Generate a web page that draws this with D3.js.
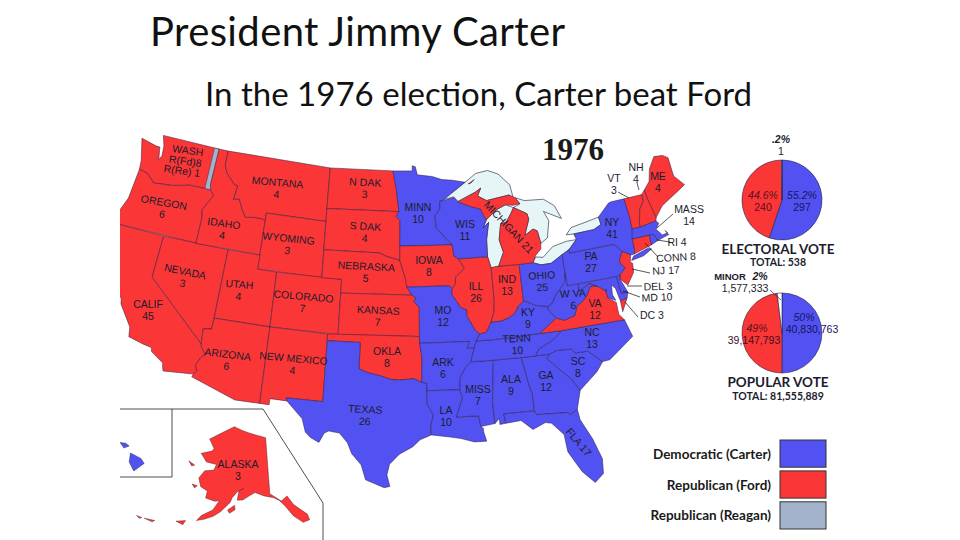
<!DOCTYPE html>
<html>
<head>
<meta charset="utf-8">
<script src="https://cdn.jsdelivr.net/npm/d3@7"></script>
<style>
  body { margin: 0; background: #fff; }
  svg { display: block; }
  text { font-family: "Liberation Sans", sans-serif; }
</style>
</head>
<body>
<svg id="chart" width="960" height="540"></svg>
<script>
// election data
var carterStates = ["AL","AR","DE","DC","FL","GA","HI","KY","LA","MD","MA","MN","MS","MO","NY","NC","OH","PA","RI","SC","TN","TX","WV","WI"];
var fordStates = ["AK","AZ","CA","CO","CT","ID","IL","IN","IA","KS","ME","MI","MT","NE","NV","NH","NJ","NM","ND","OK","OR","SD","UT","VT","VA","WA","WY"];
var labelCodes = ["WA","MT","ND","SD","OR","ID","WY","NE","NV","UT","CO","KS","CA","AZ","NM","OK","TX","AK","MN","WI","IA","IL","IN","OH","MI","MO","KY","WV","VA","PA","NY","NC","TN","AR","MS","AL","GA","SC","LA","FL","ME","VT","NH","MA","RI","CT","NJ","DE","MD","DC"];
var labelNames = ["WASH","MONTANA","N DAK","S DAK","OREGON","IDAHO","WYOMING","NEBRASKA","NEVADA","UTAH","COLORADO","KANSAS","CALIF","ARIZONA","NEW MEXICO","OKLA","TEXAS","ALASKA","MINN","WIS","IOWA","ILL","IND","OHIO","MICHIGAN","MO","KY","W VA","VA","PA","NY","NC","TENN","ARK","MISS","ALA","GA","SC","LA","FLA","ME","VT","NH","MASS","RI","CONN","NJ","DEL","MD","DC"];
var labelVotes = [9,4,3,4,6,4,3,5,3,4,7,7,45,6,4,8,26,3,10,11,8,26,13,25,21,12,9,6,12,27,41,13,10,6,7,9,12,8,10,17,4,3,4,14,4,8,17,3,10,3];

var pieParties = ["Carter","Ford","Minor"];
var electoralVotes = [297,240,1];
var popularVotes = [40830763,39147793,1577333];
var legendNames = ["Democratic (Carter)","Republican (Ford)","Republican (Reagan)"];

// state outlines, lon/lat
var shapes = {
  WA: [[[-124.7,48.4],[-123.1,48.15],[-122.75,48.15],[-122.5,47.3],[-122.3,47.6],[-122.4,48.3],[-122.75,49],[-117.03,49],[-117.04,46.42],[-116.92,45.99],[-118.98,46],[-119.3,45.93],[-120.5,45.7],[-121.2,45.65],[-122.3,45.55],[-122.8,45.9],[-123.2,46.15],[-124,46.27],[-124.1,46.9]]],
  OR: [[[-124,46.27],[-123.2,46.15],[-122.8,45.9],[-122.3,45.55],[-121.2,45.65],[-120.5,45.7],[-119.3,45.93],[-118.98,46],[-116.92,45.99],[-116.46,45.6],[-116.85,45],[-117.2,44.4],[-117.03,43.8],[-117.03,42],[-124.2,42],[-124.55,42.84],[-124.1,44]]],
  CA: [[[-124.2,42],[-120,42],[-120,39],[-114.63,35],[-114.57,34.8],[-114.14,34.3],[-114.43,34],[-114.72,33.4],[-114.5,33],[-114.72,32.72],[-117.12,32.53],[-117.25,32.85],[-117.3,33.1],[-118.4,33.75],[-118.5,34.03],[-119.2,34.15],[-120.5,34.45],[-120.65,35.15],[-121.9,36.6],[-122,36.95],[-122.5,37.5],[-122.5,37.8],[-123,38],[-123.75,39],[-123.8,39.8],[-124.4,40.4],[-124.1,41]]],
  NV: [[[-120,42],[-114.04,42],[-114.04,37],[-114.05,36.2],[-114.75,36.1],[-114.63,35],[-120,39]]],
  ID: [[[-117.03,49],[-116.05,49],[-116.05,48],[-115.7,47.45],[-114.7,46.7],[-114.35,46.65],[-114.5,45.6],[-113.95,45.7],[-113.45,44.95],[-113,44.45],[-112.3,44.55],[-111.5,44.55],[-111.05,44.47],[-111.05,42],[-117.03,42],[-117.03,43.8],[-117.2,44.4],[-116.85,45],[-116.46,45.6],[-116.92,45.99],[-117.04,46.42]]],
  MT: [[[-116.05,49],[-104.05,49],[-104.05,45],[-111.05,45],[-111.05,44.47],[-111.5,44.55],[-112.3,44.55],[-113,44.45],[-113.45,44.95],[-113.95,45.7],[-114.5,45.6],[-114.35,46.65],[-114.7,46.7],[-115.7,47.45],[-116.05,48]]],
  WY: [[[-111.05,45],[-104.05,45],[-104.05,41],[-111.05,41]]],
  UT: [[[-114.04,42],[-111.05,42],[-111.05,41],[-109.05,41],[-109.05,37],[-114.04,37]]],
  CO: [[[-109.05,41],[-102.05,41],[-102.05,37],[-109.05,37]]],
  AZ: [[[-114.04,37],[-109.05,37],[-109.05,31.33],[-111.07,31.33],[-114.8,32.5],[-114.72,32.72],[-114.5,33],[-114.72,33.4],[-114.43,34],[-114.14,34.3],[-114.57,34.8],[-114.63,35],[-114.75,36.1],[-114.05,36.2]]],
  NM: [[[-109.05,37],[-103,37],[-103.04,32],[-106.62,32],[-106.53,31.78],[-108.2,31.78],[-108.2,31.33],[-109.05,31.33]]],
  ND: [[[-104.05,49],[-97.23,49],[-96.85,47.6],[-96.56,45.94],[-104.05,45.94]]],
  SD: [[[-104.05,45.94],[-96.56,45.94],[-96.85,45.6],[-96.45,45.3],[-96.45,42.49],[-97.9,42.8],[-98.5,43],[-104.05,43]]],
  NE: [[[-104.05,43],[-98.5,43],[-97.9,42.8],[-96.45,42.49],[-96.1,41.7],[-95.9,41.2],[-95.3,40],[-102.05,40],[-102.05,41],[-104.05,41]]],
  KS: [[[-102.05,40],[-95.3,40],[-94.9,39.8],[-95.1,39.55],[-94.6,39.1],[-94.62,37],[-102.05,37]]],
  OK: [[[-103,37],[-94.62,37],[-94.43,35.4],[-94.48,33.64],[-95.2,33.9],[-96.5,33.8],[-97.2,33.85],[-98.1,34.1],[-99.2,34.3],[-100,34.56],[-100,36.5],[-103,36.5]]],
  TX: [[[-103,36.5],[-100,36.5],[-100,34.56],[-99.2,34.3],[-98.1,34.1],[-97.2,33.85],[-96.5,33.8],[-95.2,33.9],[-94.48,33.64],[-94.04,33.55],[-94.04,32],[-93.55,31.2],[-93.8,30.4],[-93.75,29.75],[-94.7,29.4],[-95.3,28.9],[-96.4,28.35],[-97.2,27.6],[-97.4,26.8],[-97.15,25.95],[-97.6,25.85],[-99.1,26.4],[-99.5,27.5],[-100.3,28.3],[-100.7,29.1],[-101.4,29.77],[-102.3,29.88],[-102.7,29.7],[-103.15,28.98],[-104,29.3],[-104.5,29.65],[-104.9,30.6],[-106.53,31.78],[-106.62,32],[-103.04,32]]],
  MN: [[[-97.23,49],[-95.15,49],[-95.15,49.38],[-94.8,49.3],[-94.6,48.7],[-93,48.55],[-92,48.3],[-90.8,48.2],[-89.5,48],[-92,46.7],[-92.3,46.65],[-92.3,46.1],[-92.85,45.6],[-92.75,44.75],[-91.22,43.5],[-96.45,43.5],[-96.45,45.3],[-96.85,45.6],[-96.56,45.94],[-96.85,47.6]]],
  IA: [[[-96.45,43.5],[-91.22,43.5],[-91.1,42.7],[-90.65,42.5],[-90.15,41.8],[-91.05,41.2],[-91.1,40.7],[-91.42,40.38],[-91.7,40.6],[-95.77,40.58],[-95.9,41.2],[-96.1,41.7],[-96.45,42.49]]],
  MO: [[[-95.77,40.58],[-91.7,40.6],[-91.42,40.38],[-91.5,40],[-90.7,39],[-90.15,38.8],[-90.2,38.4],[-89.5,37.3],[-89.1,37],[-89.5,36.5],[-89.7,36],[-90.37,36],[-90.1,36.5],[-94.62,36.5],[-94.62,37],[-94.6,39.1],[-95.1,39.55],[-94.9,39.8],[-95.3,40]]],
  AR: [[[-94.62,36.5],[-90.1,36.5],[-90.37,36],[-89.7,36],[-90.1,35],[-90.6,34.6],[-91.1,33.9],[-91.2,33],[-94.04,33],[-94.04,33.55],[-94.48,33.64],[-94.43,35.4]]],
  LA: [[[-94.04,33],[-91.2,33],[-91,32.4],[-91.6,31],[-89.73,31],[-89.6,30.2],[-89.4,30.05],[-89.4,29.8],[-89.2,29.1],[-90.2,29.1],[-91.3,29.4],[-92.2,29.55],[-93.75,29.75],[-93.8,30.4],[-93.55,31.2],[-94.04,32]]],
  MS: [[[-90.1,35],[-88.2,35],[-88.1,34.9],[-88.47,31.9],[-88.4,30.35],[-89.6,30.2],[-89.73,31],[-91.6,31],[-91,32.4],[-91.2,33],[-91.1,33.9],[-90.6,34.6]]],
  AL: [[[-88.2,35],[-85.6,35],[-85.18,32.87],[-85,32.3],[-85,31],[-87.6,31],[-87.5,30.3],[-88,30.25],[-88,30.7],[-88.4,30.35],[-88.47,31.9],[-88.1,34.9]]],
  GA: [[[-85.6,35],[-83.1,35],[-83.35,34.7],[-82.5,33.9],[-81.5,33],[-80.9,32.05],[-81.4,30.7],[-82.05,30.36],[-82.2,30.57],[-84.86,30.7],[-85,31],[-85,32.3],[-85.18,32.87]]],
  FL: [[[-87.6,31],[-85,31],[-84.86,30.7],[-82.2,30.57],[-82.05,30.36],[-81.4,30.7],[-81.3,29.9],[-80.55,28.4],[-80.03,26.8],[-80.15,25.7],[-80.9,25.15],[-81.8,26.1],[-82.7,27.7],[-82.8,29],[-83.7,29.95],[-84.2,30.05],[-85.3,29.65],[-86.2,30.4],[-87.5,30.3]]],
  SC: [[[-83.35,34.7],[-83.1,35],[-82.4,35.2],[-81.05,35.15],[-80.8,34.82],[-79.67,34.8],[-78.55,33.86],[-79.2,33.2],[-80.9,32.05],[-81.5,33],[-82.5,33.9]]],
  NC: [[[-84.32,35],[-83.1,35],[-82.4,35.2],[-81.05,35.15],[-80.8,34.82],[-79.67,34.8],[-78.55,33.86],[-77.9,33.9],[-76.5,34.7],[-75.5,35.25],[-75.9,36.55],[-81.68,36.59],[-82.6,36],[-84,35.45]]],
  TN: [[[-89.5,36.5],[-88.05,36.5],[-83.68,36.6],[-81.68,36.59],[-82.6,36],[-84,35.45],[-84.32,35],[-85.6,35],[-88.2,35],[-90.1,35],[-89.7,36]]],
  KY: [[[-89.5,36.5],[-89.1,37],[-88.5,37.1],[-88,37.8],[-87.1,37.8],[-86.3,38],[-85.7,38.3],[-85.4,38.7],[-84.8,39.1],[-84.3,38.9],[-83.7,38.65],[-82.6,38.45],[-82.6,38.17],[-81.97,37.54],[-83.68,36.6],[-88.05,36.5]]],
  IL: [[[-90.65,42.5],[-87.8,42.5],[-87.55,41.75],[-87.53,39.3],[-87.65,38.5],[-88,37.8],[-88.5,37.1],[-89.1,37],[-89.5,37.3],[-90.2,38.4],[-90.15,38.8],[-90.7,39],[-91.5,40],[-91.42,40.38],[-91.1,40.7],[-91.05,41.2],[-90.15,41.8]]],
  IN: [[[-87.53,41.7],[-87.2,41.76],[-86.8,41.76],[-84.8,41.73],[-84.8,39.1],[-85.4,38.7],[-85.7,38.3],[-86.3,38],[-87.1,37.8],[-88,37.8],[-87.65,38.5],[-87.53,39.3]]],
  OH: [[[-84.8,41.73],[-83.45,41.73],[-82.7,41.5],[-81.7,41.5],[-80.52,41.98],[-80.52,40.64],[-80.7,40],[-81.7,39.2],[-82.2,38.6],[-82.6,38.45],[-83.7,38.65],[-84.3,38.9],[-84.8,39.1]]],
  WI: [[[-92.3,46.65],[-92,46.7],[-90.8,46.9],[-90.4,46.55],[-89.1,46.15],[-88.1,45.9],[-87.8,45.35],[-87.6,45.1],[-88,44.55],[-87.4,44.9],[-87.75,43.7],[-87.8,42.5],[-90.65,42.5],[-91.1,42.7],[-91.22,43.5],[-92.75,44.75],[-92.85,45.6],[-92.3,46.1]]],
  MI: [[[-86.8,41.76],[-84.8,41.73],[-83.45,41.73],[-83.1,42.2],[-82.5,42.6],[-82.42,43],[-82.6,43.9],[-83,44.07],[-83.9,43.7],[-83.3,44.8],[-83.4,45.2],[-84.7,45.78],[-85,45.4],[-85.6,44.8],[-86.2,44.7],[-86.5,43.6],[-86.2,42.7]],
       [[-90.4,46.55],[-88.5,47.2],[-87.9,47.47],[-88.3,46.9],[-87.4,46.5],[-85,46.75],[-84.4,46.5],[-84,46],[-84.7,45.95],[-85.5,46.05],[-86.5,45.75],[-87.6,45.1],[-87.8,45.35],[-88.1,45.9],[-89.1,46.15]],
       [[-89.2,47.85],[-88.5,48.15],[-88.9,47.9]]],
  PA: [[[-80.52,41.98],[-79.76,42.25],[-79.76,42],[-75.35,42],[-74.7,41.36],[-75.1,40.9],[-75.2,40.65],[-74.75,40.2],[-75.4,39.8],[-75.79,39.72],[-80.52,39.72],[-80.52,40.64]]],
  NY: [[[-79.76,42.25],[-78.9,42.85],[-79.05,43.27],[-77,43.3],[-76.2,43.55],[-76.3,44.1],[-75,44.95],[-74.7,45],[-73.35,45],[-73.25,43.6],[-73.27,42.74],[-73.5,42.05],[-73.5,41.3],[-73.65,41],[-74,41],[-74.7,41.36],[-75.35,42],[-79.76,42]],
       [[-74.03,40.6],[-73.75,40.87],[-72.3,41.15],[-71.9,41.05],[-72.8,40.72]]],
  VT: [[[-73.35,45],[-71.5,45],[-71.5,44.5],[-72.05,44],[-72.45,43],[-72.46,42.73],[-73.27,42.74],[-73.25,43.6]]],
  NH: [[[-71.5,45],[-71.08,45.3],[-71.03,44.6],[-70.7,43.1],[-70.8,42.87],[-72.46,42.73],[-72.45,43],[-72.05,44],[-71.5,44.5]]],
  ME: [[[-71.08,45.3],[-70.4,45.8],[-70,46.7],[-69.2,47.45],[-68.3,47.35],[-67.8,47.07],[-67.8,45.7],[-67,44.85],[-68.5,44.3],[-69.8,43.8],[-70.7,43.1],[-71.03,44.6]]],
  MA: [[[-73.5,42.05],[-73.27,42.74],[-72.46,42.73],[-70.8,42.87],[-70.6,42.65],[-71,42.3],[-70.55,41.8],[-70,41.85],[-70.2,42.05],[-69.95,41.7],[-70.6,41.6],[-71.12,41.5],[-71.38,42.02],[-71.8,42.02]]],
  RI: [[[-71.8,42.02],[-71.38,42.02],[-71.12,41.5],[-71.85,41.32]]],
  CT: [[[-73.5,42.05],[-71.8,42.02],[-71.85,41.32],[-73.65,41],[-73.5,41.3]]],
  NJ: [[[-74.7,41.36],[-74,41],[-74.2,40.5],[-74,40.4],[-74.1,39.75],[-74.9,38.95],[-75.5,39.5],[-75.4,39.8],[-74.75,40.2],[-75.2,40.65],[-75.1,40.9]]],
  DE: [[[-75.79,39.72],[-75.4,39.8],[-75.5,39.5],[-75.05,38.45],[-75.7,38.46]]],
  MD: [[[-79.48,39.72],[-75.79,39.72],[-75.7,38.46],[-75.05,38.45],[-75.25,38.03],[-75.9,37.95],[-76.1,38.9],[-76.4,39.2],[-76.5,38.5],[-76.3,38.05],[-77,38.35],[-77.05,38.85],[-77.75,39.32],[-78.4,39.6],[-79.48,39.2]]],
  DC: [[[-77.12,38.93],[-77.03,39],[-76.91,38.89],[-77.04,38.79]]],
  VA: [[[-83.68,36.6],[-81.97,37.54],[-81.3,37.3],[-80.3,37.5],[-79.9,38.2],[-79.3,38.45],[-78.85,38.8],[-78.35,39.4],[-77.75,39.32],[-77.05,38.85],[-77,38.35],[-76.3,37.9],[-76.3,37],[-75.9,36.55],[-81.68,36.59]],
       [[-75.9,37.95],[-75.25,38.03],[-75.9,37.15]]],
  WV: [[[-80.52,40.64],[-80.52,39.72],[-79.48,39.72],[-79.48,39.2],[-78.4,39.6],[-77.75,39.32],[-78.35,39.4],[-78.85,38.8],[-79.3,38.45],[-79.9,38.2],[-80.3,37.5],[-81.3,37.3],[-81.97,37.54],[-82.6,38.17],[-82.6,38.45],[-82.2,38.6],[-81.7,39.2],[-80.7,40]]]
};
var reaganStrip = [[-117.5,49],[-117.03,49],[-117.04,46.42],[-116.92,45.99],[-117.45,46]];
var lakes = [
  [[-92.1,46.75],[-90.8,46.95],[-90.4,46.6],[-88.5,47.2],[-87.9,47.47],[-88.3,46.9],[-87.4,46.5],[-85,46.75],[-84.6,46.5],[-84.8,47.5],[-85.9,48.4],[-87,48.75],[-88.3,48.6],[-89.5,48]],
  [[-87.8,42.5],[-87.55,41.7],[-87.2,41.7],[-86.8,41.76],[-86.2,42.7],[-86.5,43.6],[-86.2,44.7],[-85.6,44.8],[-85,45.4],[-84.7,45.78],[-85.5,46.05],[-86.5,45.75],[-87.6,45.1],[-88,44.55],[-87.4,44.9],[-87.75,43.7]],
  [[-84.7,45.78],[-83.4,45.2],[-83.3,44.8],[-83.9,43.7],[-83,44.07],[-82.6,43.9],[-82.42,43],[-81.7,43.3],[-81.3,44.5],[-81.7,45.2],[-80,44.5],[-80.5,45.5],[-81.5,46.1],[-83.5,46.2],[-84.4,46.5],[-84,46]],
  [[-83.45,41.73],[-82.7,41.5],[-81.7,41.5],[-80.52,41.98],[-79.76,42.25],[-78.9,42.85],[-79.9,42.85],[-81.3,42.65],[-82.4,42],[-83.1,42.1]],
  [[-79.05,43.27],[-77,43.3],[-76.2,43.55],[-76.3,44.1],[-77.5,43.95],[-79.2,43.75],[-79.8,43.3]]
];
var alaska = [
  [[-141,69.65],[-141,60.3],[-137.5,58.9],[-135.4,59.6],[-133.8,58],[-130.3,56],[-130,55],[-132,54.8],[-134.5,56.2],[-136.5,58],[-138,59],[-139.8,59.6],[-143,60],[-146,60.6],[-148,60],[-150,59.3],[-151.8,59.2],[-151.5,60.7],[-150,61.2],[-152,60.6],[-153.5,59.5],[-154,58.7],[-156.5,57],[-158.5,56],[-161,55.2],[-163,54.7],[-162,55.7],[-159,57],[-157.5,58.7],[-159,58.5],[-162,58.7],[-162,59.9],[-164.5,60.3],[-166,61.6],[-164.7,63],[-161.5,63.5],[-161,64.5],[-165,64.5],[-168,65.6],[-164,66.5],[-163.5,67],[-166.5,68.3],[-163,69.5],[-156.5,71.3],[-152,70.8],[-148,70.4]],
  [[-154.5,57.4],[-152.5,58.3],[-152.2,57.6],[-153.8,56.9]],
  [[-171.5,63.7],[-168.9,63.4],[-169.8,63.1]],
  [[-167.5,60.3],[-165.7,60.3],[-166.4,59.8]],
  [[-168.5,53.6],[-166,54.2],[-166.4,53.4]],
  [[-176.8,52],[-174,52.4],[-174.5,52]],
  [[-179,51.8],[-177.5,51.9],[-178,51.6]]
];
var hawaii = [
  [[-155.9,20.25],[-155.1,19.85],[-154.85,19.5],[-155.65,18.95],[-156,19.6]],
  [[-156.7,21],[-156.25,20.95],[-156,20.75],[-156.4,20.6]],
  [[-157.3,21.2],[-156.75,21.18],[-157.1,21.08]],
  [[-158.25,21.55],[-157.95,21.7],[-157.7,21.3],[-158.1,21.3]],
  [[-159.75,22.1],[-159.4,22.22],[-159.3,21.95],[-159.55,21.9]],
  [[-160.25,22],[-160.05,22],[-160.15,21.8]]
];

// layout: x, y, rotation
var labelPlace = {
  WA:[186,163,8], MT:[277,188,5], ND:[365,188,3], SD:[365,232,4], OR:[163,208,10], ID:[223,229,8], WY:[288,244,6],
  NE:[366,272,3], NV:[184,277,12], UT:[239,290,5], CO:[303,302,5], KS:[378,316,3], CA:[148,310,0], AZ:[227,360,7],
  NM:[293,364,5], OK:[387,357,0], TX:[365,415,3], AK:[238,470,0], MN:[418,213,0], WI:[465,230,0], IA:[429,266,0],
  IL:[476,292,0], IN:[507,285,0], OH:[542,281,-3], MO:[443,316,0], KY:[528,318,0], WV:[573,299,-3], VA:[595,309,0],
  PA:[591,262,0], NY:[612,228,0], NC:[592,338,0], TN:[517,344,-3], AR:[443,368,0], MS:[478,395,0], AL:[511,385,0],
  GA:[546,381,0], SC:[578,367,0], LA:[446,416,0], ME:[658,182,0], VT:[614,184,0], NH:[636,173,0], MA:[689,215,0]
};
var inlinePlace = { MI:[509,227,47], FL:[579,442,50], RI:[677,242,0], CT:[676,257,-4], NJ:[666,270,-3], DE:[658,286,-2], MD:[657,297,-3], DC:[652,315,0] };
var leaders = [
  [[618,192],[629,198]], [[637,183],[639,190]], [[673,214],[657,228]], [[670,242],[657,240]], [[658,257],[645,243]],
  [[650,273],[632,269]], [[642,286],[627,286]], [[640,297],[623,291]], [[638,317],[625,302]]
];

var BLUE = "#5252f2", RED = "#fb3636", GREY = "#a3b3cb", INK = "#1c1c2e";
var svg = d3.select("#chart");
var line = d3.line().curve(d3.curveLinearClosed);

svg.append("defs").append("clipPath").attr("id", "mapClip")
  .append("rect").attr("x", 120).attr("y", 125).attr("width", 700).attr("height", 415);

function winnerColor(code) {
  return carterStates.indexOf(code) >= 0 ? BLUE : RED;
}

// titles
svg.append("text").attr("x", 150).attr("y", 46).attr("textLength", 415)
  .style("font-family", "Lato, sans-serif").style("font-size", "40px").attr("fill", "#111")
  .text("President Jimmy Carter");
svg.append("text").attr("x", 205).attr("y", 106).attr("textLength", 547)
  .style("font-family", "Lato, sans-serif").style("font-size", "33px").attr("fill", "#111")
  .text("In the 1976 election, Carter beat Ford");
svg.append("text").attr("x", 573).attr("y", 160).attr("text-anchor", "middle")
  .style("font-family", "Liberation Serif, serif").style("font-size", "31px").style("font-weight", "bold").attr("fill", "#1a1a1a")
  .text("1976");

// lower 48, the source map is stretched a little compared with plain albers
var projection = d3.geoAlbers().scale(750).translate([397, 313]);
var xFit = d3.scaleLinear().domain([155, 219, 262, 331, 668]).range([142, 216, 264, 328, 685]);
var yFit = d3.scaleLinear().domain([145, 175, 219, 269, 332, 397, 481]).range([135, 168, 213, 267, 333, 400, 487]);
var fitted = function (p) { var q = projection(p); return [xFit(q[0]), yFit(q[1])]; };
var ringPath = function (ring) { return line(ring.map(fitted)); };

var mapLayer = svg.append("g").attr("clip-path", "url(#mapClip)");

mapLayer.append("g").selectAll("path").data(lakes).enter().append("path")
  .attr("d", ringPath).attr("fill", "#e6f5f5").attr("stroke", "#1a1a3a").attr("stroke-width", 0.6);

var stateRows = [];
Object.keys(shapes).forEach(function (code) {
  shapes[code].forEach(function (ring) { stateRows.push({ code: code, ring: ring }); });
});
mapLayer.append("g").selectAll("path").data(stateRows).enter().append("path")
  .attr("d", function (d) { return ringPath(d.ring); })
  .attr("fill", function (d) { return winnerColor(d.code); })
  .attr("stroke", "#2a1a40").attr("stroke-width", 0.5).attr("stroke-linejoin", "round");
mapLayer.append("path").attr("d", ringPath(reaganStrip)).attr("fill", GREY).attr("stroke", "#2a1a40").attr("stroke-width", 0.4);

// alaska and hawaii insets
var akProjection = d3.geoConicEqualArea().parallels([55, 65]).rotate([146, 0])
  .center([0, 62]).scale(345).translate([255, 484]);
mapLayer.append("g").selectAll("path").data(alaska).enter().append("path")
  .attr("d", function (r) { return line(r.map(akProjection)); })
  .attr("fill", RED).attr("stroke", "#401a20").attr("stroke-width", 0.4);
var hiProjection = d3.geoMercator().center([-155.4, 19.6]).scale(750).translate([137, 462]);
mapLayer.append("g").selectAll("path").data(hawaii).enter().append("path")
  .attr("d", function (r) { return line(r.map(hiProjection)); })
  .attr("fill", BLUE).attr("stroke", "#1a1a40").attr("stroke-width", 0.4);
svg.append("path").attr("fill", "none").attr("stroke", "#222").attr("stroke-width", 0.8)
  .attr("d", d3.line()([[120,409],[263,409],[323,503],[323,540]]));
svg.append("path").attr("fill", "none").attr("stroke", "#222").attr("stroke-width", 0.8)
  .attr("d", d3.line()([[172,409],[172,477],[120,477]]));

// state labels
var labels = svg.append("g").attr("fill", INK).style("font-size", "10.5px").attr("text-anchor", "middle");
labelCodes.forEach(function (code, i) {
  var one = inlinePlace[code], two = labelPlace[code];
  var p = one || two;
  var g = labels.append("g").attr("transform", "translate(" + p[0] + "," + p[1] + ") rotate(" + p[2] + ")");
  if (code === "WA") {
    g.append("text").attr("y", -9).text(labelNames[i]);
    g.append("text").attr("y", 2).attr("x", -1).text("R(Fd)8");
    g.append("text").attr("y", 12).attr("x", -3).text("R(Re) 1");
  } else if (one) {
    g.append("text").attr("y", 4).text(labelNames[i] + " " + labelVotes[i]);
  } else {
    g.append("text").attr("y", -2).text(labelNames[i]);
    g.append("text").attr("y", 10).text(labelVotes[i]);
  }
});
svg.append("g").selectAll("path").data(leaders).enter().append("path")
  .attr("d", function (d) { return d3.line()(d); }).attr("stroke", "#111").attr("stroke-width", 0.7).attr("fill", "none");

// pies
var pie = d3.pie().sort(null);
var arc = d3.arc().innerRadius(0).outerRadius(40);
var pieFill = { Carter: BLUE, Ford: RED, Minor: "#fff" };

function drawPie(values, cx, cy) {
  var g = svg.append("g").attr("transform", "translate(" + cx + "," + cy + ")");
  g.selectAll("path").data(pie(values)).enter().append("path")
    .attr("d", arc)
    .attr("fill", function (d, i) { return pieFill[pieParties[i]]; })
    .attr("stroke", "#222244").attr("stroke-width", 0.6);
  return g;
}
drawPie(electoralVotes, 782, 200);
drawPie(popularVotes, 782, 333);

function note(x, y, str, opts) {
  opts = opts || {};
  return svg.append("text").attr("x", x).attr("y", y).attr("text-anchor", opts.anchor || "middle")
    .attr("fill", opts.fill || INK)
    .style("font-size", (opts.size || 10.5) + "px")
    .style("font-style", opts.italic ? "italic" : "normal")
    .style("font-weight", opts.bold ? "bold" : "normal")
    .style("font-family", opts.font || "Liberation Sans, sans-serif")
    .text(str);
}
note(781, 143, ".2%", { italic: true, bold: true });
note(781, 155, electoralVotes[2]);
note(763, 199, "44.6%", { italic: true, fill: "#5a1020" });
note(763, 211, electoralVotes[1], { fill: "#5a1020" });
note(802, 199, "55.2%", { italic: true, fill: "#15155a" });
note(802, 211, electoralVotes[0], { fill: "#15155a" });
note(778, 254, "ELECTORAL  VOTE", { bold: true, size: 13.5, font: "Lato, sans-serif" });
note(778, 266, "TOTAL:  538", { bold: true, size: 10.5, font: "Lato, sans-serif" });
note(730, 280, "MINOR", { bold: true, size: 9.5 });
note(760, 280, "2%", { italic: true, bold: true, size: 10.5 });
note(745, 292, "1,577,333");
note(757, 332, "49%", { italic: true, fill: "#5a1020" });
note(754, 344, "39,147,793", { fill: "#40101c" });
note(804, 321, "50%", { italic: true, fill: "#15155a" });
note(812, 333, "40,830,763", { fill: "#15155a" });
note(778, 387, "POPULAR  VOTE", { bold: true, size: 13.5, font: "Lato, sans-serif" });
note(778, 400, "TOTAL:  81,555,889", { bold: true, size: 10.5, font: "Lato, sans-serif" });
svg.append("path").attr("d", d3.line()([[770,290],[781,300]])).attr("stroke", "#111").attr("stroke-width", 0.6).attr("fill", "none");

// legend
var legendY = d3.scaleBand().domain(legendNames).range([440, 529]).paddingInner(0.12);
var legendFill = [BLUE, RED, GREY];
var legend = svg.append("g");
legend.selectAll("rect").data(legendNames).enter().append("rect")
  .attr("x", 780).attr("width", 46)
  .attr("y", function (d) { return legendY(d); })
  .attr("height", legendY.bandwidth())
  .attr("fill", function (d, i) { return legendFill[i]; })
  .attr("stroke", "#333");
legend.selectAll("text").data(legendNames).enter().append("text")
  .attr("x", 771).attr("text-anchor", "end")
  .attr("y", function (d) { return legendY(d) + legendY.bandwidth() / 2 + 5; })
  .attr("fill", "#1a1a1a").style("font-family", "Lato, sans-serif").style("font-weight", "bold").style("font-size", "13.5px")
  .text(function (d) { return d; });
</script>
</body>
</html>
